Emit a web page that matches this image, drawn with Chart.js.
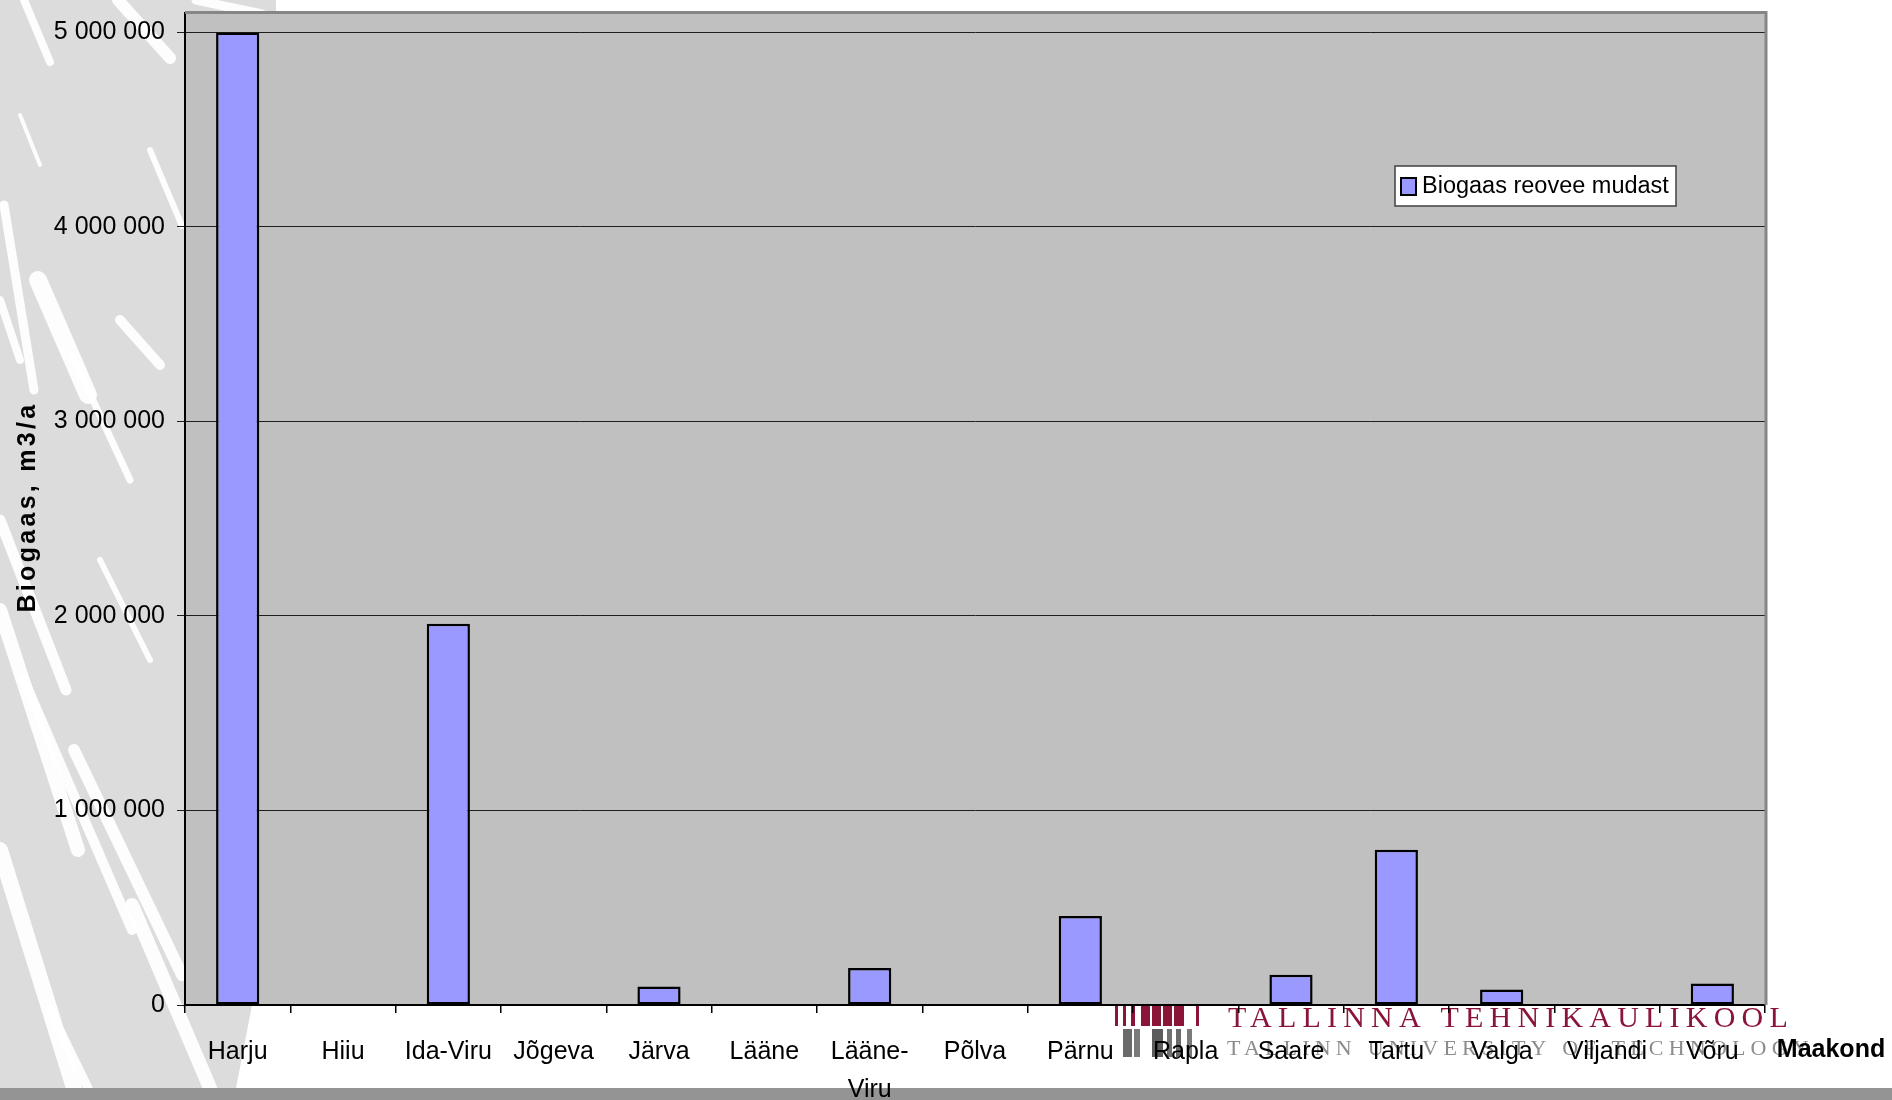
<!DOCTYPE html>
<html>
<head>
<meta charset="utf-8">
<title>Biogaas reovee mudast maakonniti</title>
<script src="https://cdn.jsdelivr.net/npm/chart.js@4.4.1/dist/chart.umd.min.js"></script>
<style>
  html, body { margin: 0; padding: 0; background: #ffffff; overflow: hidden; }
  canvas { display: block; }
</style>
</head>
<body>
<canvas id="chart" width="1892" height="1100"></canvas>
<script>
// Counties (maakonnad) along the category axis
const counties = ['Harju', 'Hiiu', 'Ida-Viru', 'Jõgeva', 'Järva', 'Lääne', ['Lääne-', 'Viru'],
  'Põlva', 'Pärnu', 'Rapla', 'Saare', 'Tartu', 'Valga', 'Viljandi', 'Võru'];

// Biogas obtainable from sewage sludge, m3 per year
const biogasFromSludge = [5000000, 0, 1960000, 0, 95000, 0, 190000, 0, 458000, 0, 156000, 798000, 80000, 0, 110000];

// Value axis tick values
const yTicks = [0, 1000000, 2000000, 3000000, 4000000, 5000000];
const yMax = 5100000;

const seriesLabel = 'Biogaas reovee mudast';
const yTitle = 'Biogaas, m3/a';
const xTitle = 'Maakond';
const logoTitle = 'TALLINNA TEHNIKAÜLIKOOL';
const logoSubtitle = 'TALLINN UNIVERSITY OF TECHNOLOGY';

const FONT = "'Liberation Sans', Arial, Helvetica, sans-serif";
const SERIF = "'Liberation Serif', 'Times New Roman', serif";

// thousands separated by spaces: 5 000 000
function spaced(v) {
  return String(v).replace(/\B(?=(\d{3})+(?!\d))/g, ' ');
}

// Slide backdrop: light grey panel with white streaks on the left,
// university logo at the bottom right, grey footer band and the plot area fill.
const slideBackdrop = {
  id: 'slideBackdrop',
  beforeDraw(chart) {
    const { ctx, chartArea: a, width: W, height: H } = chart;
    ctx.save();
    ctx.fillStyle = '#ffffff';
    ctx.fillRect(0, 0, W, H);

    // left decorative panel
    ctx.save();
    ctx.beginPath();
    ctx.moveTo(0, 0);
    ctx.lineTo(276, 0);
    ctx.lineTo(276, a.top);
    ctx.lineTo(a.left, a.top);
    ctx.lineTo(a.left, a.bottom);
    ctx.lineTo(252, a.bottom);
    ctx.lineTo(236, 1088);
    ctx.lineTo(0, 1088);
    ctx.closePath();
    ctx.fillStyle = '#dcdcdc';
    ctx.fill();
    ctx.clip();
    const streaks = [
      [20, 115, 40, 165, 4], [4, 205, 34, 390, 9], [38, 280, 88, 395, 18],
      [120, 320, 160, 365, 10], [72, 355, 130, 480, 7], [0, 520, 66, 690, 11],
      [0, 610, 78, 850, 14], [24, 680, 132, 930, 10], [0, 850, 74, 1088, 16],
      [74, 750, 182, 975, 12], [132, 905, 210, 1088, 14], [50, 1010, 88, 1088, 9],
      [118, 0, 170, 58, 12], [24, 0, 50, 62, 8], [196, 0, 262, 14, 9],
      [150, 150, 182, 226, 6], [0, 300, 20, 360, 8], [100, 560, 150, 660, 6]
    ];
    ctx.strokeStyle = 'rgba(255,255,255,0.92)';
    ctx.lineCap = 'round';
    streaks.forEach(([x0, y0, x1, y1, w]) => {
      ctx.lineWidth = w;
      ctx.beginPath();
      ctx.moveTo(x0, y0);
      ctx.lineTo(x1, y1);
      ctx.stroke();
    });
    ctx.restore();

    // footer band
    ctx.fillStyle = '#949494';
    ctx.fillRect(0, 1088, W, H - 1088);

    // university logo: maroon and grey bars, name in two languages
    ctx.fillStyle = '#8a1538';
    [[1115, 3], [1123, 3], [1131, 4], [1141, 9], [1152, 9], [1163, 9], [1174, 10], [1196, 3]]
      .forEach(([x, w]) => ctx.fillRect(x, 1006, w, 20));
    [[1123, 9, '#6a6a6a'], [1134, 6, '#7a7a7a'], [1152, 11, '#5c5c5c'], [1167, 5, '#707070'],
     [1176, 5, '#6a6a6a'], [1187, 5, '#7a7a7a']]
      .forEach(([x, w, c]) => { ctx.fillStyle = c; ctx.fillRect(x, 1029, w, 28); });

    ctx.textBaseline = 'alphabetic';
    ctx.textAlign = 'left';
    ctx.font = '30px ' + SERIF;
    ctx.letterSpacing = '6.2px';
    ctx.fillStyle = '#8a1538';
    ctx.fillText(logoTitle, 1228, 1027);
    ctx.font = '22px ' + SERIF;
    ctx.letterSpacing = '5.2px';
    ctx.fillStyle = '#8c8c8c';
    ctx.fillText(logoSubtitle, 1227, 1055);
    ctx.letterSpacing = '0px';

    // plot area
    ctx.fillStyle = '#c0c0c0';
    ctx.fillRect(a.left, a.top, a.right - a.left, a.bottom - a.top);
    ctx.restore();
  }
};

// Plot frame, axis titles and the boxed legend
const frameAndLegend = {
  id: 'frameAndLegend',
  afterDraw(chart) {
    const { ctx, chartArea: a } = chart;
    ctx.save();
    ctx.strokeStyle = '#868686';
    ctx.lineWidth = 3;
    ctx.beginPath();
    ctx.moveTo(a.left, a.top - 0.5);
    ctx.lineTo(a.right + 1, a.top - 0.5);
    ctx.lineTo(a.right + 1, a.bottom);
    ctx.stroke();

    // value axis title, bold and letter-spaced, reading upwards
    ctx.save();
    ctx.translate(28, (a.top + a.bottom) / 2);
    ctx.rotate(-Math.PI / 2);
    ctx.fillStyle = '#000';
    ctx.font = 'bold 25px ' + FONT;
    ctx.letterSpacing = '3.3px';
    ctx.textAlign = 'center';
    ctx.textBaseline = 'middle';
    ctx.fillText(yTitle, 2, 0);
    ctx.restore();

    // category axis title at the right end of the axis
    ctx.fillStyle = '#000';
    ctx.font = 'bold 25px ' + FONT;
    ctx.textAlign = 'center';
    ctx.textBaseline = 'middle';
    ctx.fillText(xTitle, 1831, 1050);

    // legend
    const ds = chart.data.datasets[0];
    const box = { x: 1395, y: 166, w: 281, h: 40 };
    ctx.fillStyle = '#ffffff';
    ctx.fillRect(box.x, box.y, box.w, box.h);
    ctx.strokeStyle = '#404040';
    ctx.lineWidth = 1.5;
    ctx.strokeRect(box.x, box.y, box.w, box.h);
    ctx.fillStyle = ds.backgroundColor;
    ctx.fillRect(box.x + 6, box.y + 12, 15, 17);
    ctx.strokeStyle = '#000';
    ctx.lineWidth = 2;
    ctx.strokeRect(box.x + 6, box.y + 12, 15, 17);
    ctx.fillStyle = '#000';
    ctx.font = '23.5px ' + FONT;
    ctx.textAlign = 'left';
    ctx.textBaseline = 'middle';
    ctx.fillText(ds.label, box.x + 27, box.y + box.h / 2 + 1);
    ctx.restore();
  }
};

new Chart(document.getElementById('chart'), {
  type: 'bar',
  data: {
    labels: counties,
    datasets: [{
      label: seriesLabel,
      data: biogasFromSludge,
      backgroundColor: '#9999ff',
      borderColor: '#000000',
      borderWidth: 2.5,
      borderSkipped: false,
      barPercentage: 0.41,
      categoryPercentage: 1
    }]
  },
  options: {
    responsive: false,
    animation: false,
    devicePixelRatio: 1,
    layout: { padding: { top: 13, right: 127, left: 0, bottom: 0 } },
    plugins: {
      legend: { display: false },
      tooltip: { enabled: false }
    },
    scales: {
      x: {
        grid: { offset: true, drawOnChartArea: false, drawTicks: true, tickLength: 8, color: '#000', lineWidth: 1.5 },
        border: { display: true, color: '#000', width: 2 },
        ticks: {
          color: '#000',
          font: { family: FONT, size: 25, lineHeight: 1.52 },
          padding: 20,
          maxRotation: 0,
          minRotation: 0,
          autoSkip: false
        },
        afterFit(s) { s.height = 95; s.paddingLeft = 0; s.paddingRight = 0; }
      },
      y: {
        min: 0,
        max: yMax,
        afterBuildTicks(s) { s.ticks = yTicks.map(v => ({ value: v })); },
        grid: { color: '#1e1e1e', lineWidth: 1, tickLength: 8, drawTicks: true },
        border: { display: true, color: '#000', width: 2 },
        ticks: {
          color: '#000',
          font: { family: FONT, size: 25 },
          padding: 12,
          callback: v => spaced(v)
        },
        afterFit(s) { s.width = 185; s.paddingTop = 0; s.paddingBottom = 0; }
      }
    }
  },
  plugins: [slideBackdrop, frameAndLegend]
});
</script>
</body>
</html>
